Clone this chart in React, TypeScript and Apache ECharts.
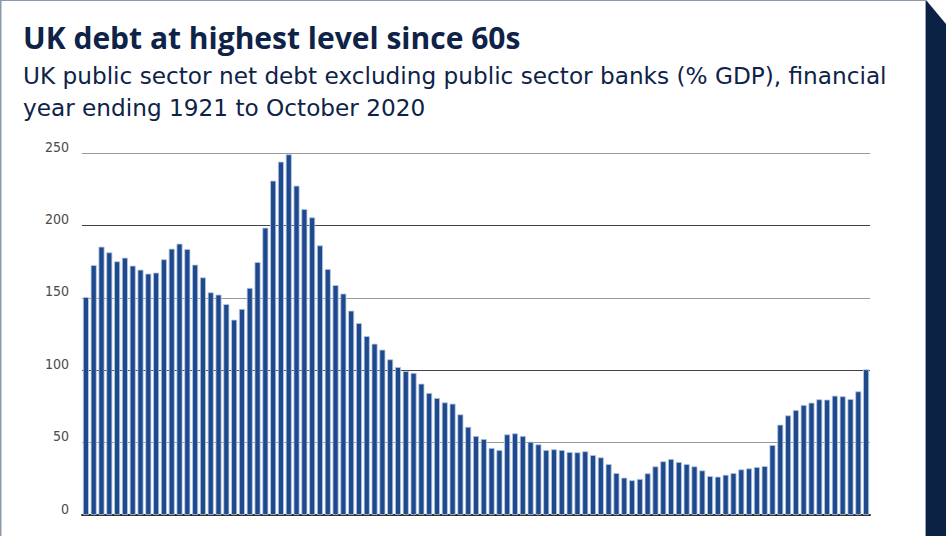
import React, { useEffect, useRef } from "react";
import * as echarts from "echarts";

const TITLE = "UK debt at highest level since 60s";
const SUBTITLE_1 =
  "UK public sector net debt excluding public sector banks (% GDP), financial";
const SUBTITLE_2 = "year ending 1921 to October 2020";

const FIRST_YEAR = 1921;
const LAST_YEAR = 2020;
const yearLabels: string[] = [];
for (let y = FIRST_YEAR; y <= LAST_YEAR; y++) yearLabels.push(String(y));
const categories = [...yearLabels, "Oct 2020"];

// UK public sector net debt ex banks, % of GDP
const debtPctGdp = [
  150.5, 172.6, 185.3, 181.4, 175.2, 177.7, 172.2, 169.4, 166.7, 167.4,
  176.6, 183.9, 187.4, 183.7, 172.9, 164.1, 153.8, 152.2, 145.7, 134.9,
  142.3, 156.8, 174.7, 198.4, 230.9, 244.0, 249.1, 227.4, 211.3, 205.6,
  186.2, 169.9, 158.8, 152.9, 141.1, 132.6, 123.6, 118.3, 114.2, 107.5,
  102.2, 99.4, 98.1, 90.7, 84.3, 80.8, 77.8, 76.9, 69.5, 60.9,
  54.6, 52.5, 46.3, 44.9, 55.7, 56.4, 54.6, 50.6, 48.8, 44.9,
  45.4, 44.9, 43.5, 43.3, 44.0, 41.4, 39.8, 35.2, 29.0, 25.8,
  24.0, 24.9, 28.8, 33.6, 37.1, 38.7, 36.6, 35.2, 33.6, 30.8,
  26.9, 26.5, 27.8, 29.0, 31.5, 32.2, 33.1, 33.8, 48.3, 62.4,
  68.8, 72.5, 76.0, 77.6, 79.9, 79.7, 82.4, 82.0, 80.1, 85.4,
  100.6,
];

const Y_MIN = 0;
const Y_MAX = 250;
const Y_STEP = 50;

const NAVY = "#0e2347";
const BAR_BLUE = "#1e4a8d";

export default function App() {
  const ref = useRef<HTMLDivElement>(null);

  useEffect(() => {
    if (!ref.current) return;
    const chart = echarts.init(ref.current, null, { renderer: "svg" });
    chart.setOption({
      animation: false,
      backgroundColor: "#ffffff",
      grid: { left: 82, right: 76, top: 153, bottom: 21, containLabel: false },
      xAxis: {
        type: "category",
        data: categories,
        boundaryGap: true,
        axisLine: { show: true, lineStyle: { color: "#2a2a2a", width: 2 } },
        axisTick: { show: false },
        axisLabel: { show: false },
        splitLine: { show: false },
      },
      yAxis: {
        type: "value",
        min: Y_MIN,
        max: Y_MAX,
        interval: Y_STEP,
        axisLine: { show: false },
        axisTick: { show: false },
        axisLabel: {
          color: "#4a4a4a",
          fontFamily: "'DejaVu Sans Condensed', 'Liberation Sans Narrow', sans-serif",
          fontSize: 14,
          margin: 13,
          verticalAlign: "bottom",
          lineHeight: 13,
        },
        splitLine: {
          show: true,
          lineStyle: { color: ["#444444", "#9a9a9a"], width: 1 },
        },
      },
      series: [
        {
          type: "bar",
          data: debtPctGdp,
          barWidth: 6,
          itemStyle: {
            color: BAR_BLUE,
            borderColor: "#b9c9e3",
            borderWidth: 0.8,
          },
        },
      ],
      graphic: [
        {
          type: "line",
          shape: { x1: 0, y1: 0.5, x2: 926, y2: 0.5 },
          style: { stroke: "#8c99ad", lineWidth: 1 },
          silent: true,
        },
        {
          type: "line",
          shape: { x1: 0.75, y1: 0, x2: 0.75, y2: 536 },
          style: { stroke: "#8c99ad", lineWidth: 1.5 },
          silent: true,
        },
        {
          type: "line",
          shape: { x1: 925.5, y1: 0, x2: 925.5, y2: 536 },
          style: { stroke: "#9aa6b8", lineWidth: 1 },
          silent: true,
        },
        {
          type: "polygon",
          shape: {
            points: [
              [926, 0],
              [946, 24],
              [946, 536],
              [926, 536],
            ],
          },
          style: { fill: "#0b2245" },
          silent: true,
        },
        {
          type: "text",
          x: 23,
          y: 37.2,
          style: {
            text: TITLE,
            fill: NAVY,
            fontFamily: "'Open Sans', sans-serif",
            fontWeight: "bold",
            fontSize: 30,
            verticalAlign: "middle",
            align: "left",
          },
          silent: true,
        },
        {
          type: "text",
          x: 23,
          y: 75,
          style: {
            text: SUBTITLE_1,
            fill: NAVY,
            fontFamily: "'DejaVu Sans', sans-serif",
            fontSize: 23.2,
            verticalAlign: "middle",
            align: "left",
          },
          silent: true,
        },
        {
          type: "text",
          x: 23,
          y: 107.3,
          style: {
            text: SUBTITLE_2,
            fill: NAVY,
            fontFamily: "'DejaVu Sans', sans-serif",
            fontSize: 23.2,
            verticalAlign: "middle",
            align: "left",
          },
          silent: true,
        },
      ],
    });
    return () => chart.dispose();
  }, []);

  return (
    <div
      ref={ref}
      style={{
        position: "fixed",
        left: 0,
        top: 0,
        width: 946,
        height: 536,
        background: "#ffffff",
      }}
    />
  );
}
